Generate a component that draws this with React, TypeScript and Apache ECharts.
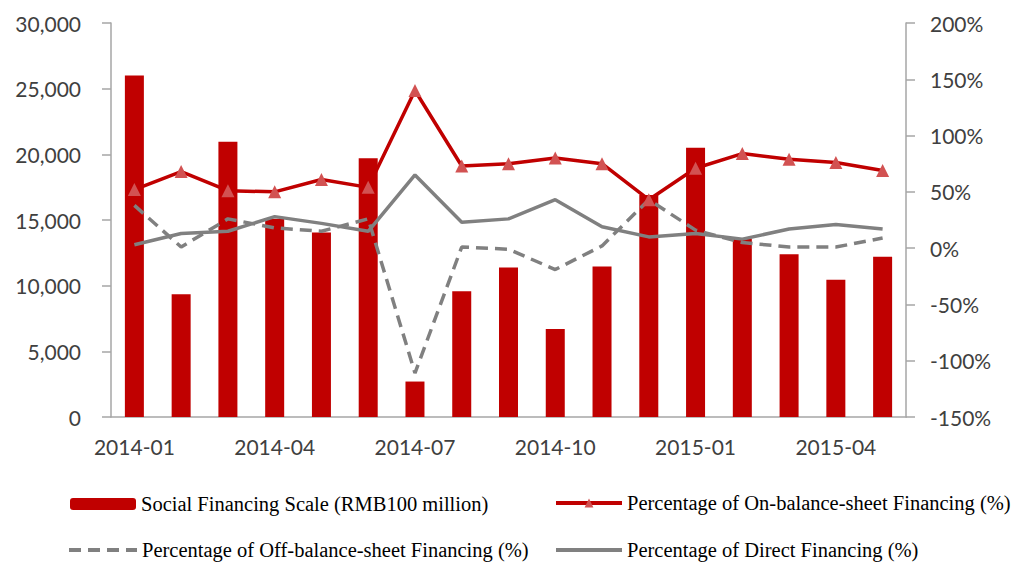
import React, { useEffect, useRef } from "react";
import * as echarts from "echarts";

const months = [
  "2014-01", "2014-02", "2014-03", "2014-04", "2014-05", "2014-06",
  "2014-07", "2014-08", "2014-09", "2014-10", "2014-11", "2014-12",
  "2015-01", "2015-02", "2015-03", "2015-04", "2015-05",
];

const socialFinancing = [
  26000, 9350, 20950, 15100, 14050, 19700, 2700, 9570, 11380, 6700,
  11460, 16900, 20500, 13600, 12400, 10450, 12200,
];

const onBalance = [52, 68, 51, 50, 61, 54, 140, 73, 75, 80, 75, 43, 71, 84, 79, 76, 69];
const offBalance = [38, 1, 26, 18, 15, 26, -111, 1, -1, -19, 2, 43, 16, 5, 1, 1, 9];
const directFin = [3, 13, 15, 28, 22, 15, 65, 23, 26, 43, 19, 10, 13, 8, 17, 21, 17];

const names = {
  bar: "Social Financing Scale (RMB100 million)",
  on: "Percentage of On-balance-sheet Financing (%)",
  off: "Percentage of Off-balance-sheet Financing (%)",
  direct: "Percentage of Direct Financing (%)",
};

const axisColor = "#a6a6a6";
const labelColor = "#404040";
const labelFont = "Lato";
const legendFont = "Liberation Serif";

export default function App() {
  const ref = useRef<HTMLDivElement>(null);
  useEffect(() => {
    if (!ref.current) return;
    const chart = echarts.init(ref.current, null, { renderer: "svg" });
    const legendText = {
      fontFamily: legendFont,
      fontSize: 20.5,
      color: "#000",
      lineHeight: 24,
    };
    const mkLegend = (item: any, left: number, top: number, w: number, h: number) => ({
      data: [item],
      left,
      top,
      padding: 0,
      itemWidth: w,
      itemHeight: h,
      textStyle: legendText,
      lineStyle: { width: 4 },
      selectedMode: false,
    });
    chart.setOption({
      animation: false,
      backgroundColor: "#fff",
      grid: { left: 111, right: 112, top: 23, bottom: 145, containLabel: false },
      legend: [
        mkLegend(names.bar, 70, 492, 66, 12),
        mkLegend(names.on, 554, 491, 66, 11),
        mkLegend({ name: names.off, itemStyle: { opacity: 0 } }, 67, 538, 68, 12),
        mkLegend({ name: names.direct, itemStyle: { opacity: 0 } }, 554, 538, 66, 12),
      ],
      xAxis: {
        type: "category",
        data: months,
        boundaryGap: true,
        axisLine: { lineStyle: { color: axisColor, width: 1.5 } },
        axisTick: { interval: 2, length: 7, lineStyle: { color: axisColor, width: 1.5 } },
        axisLabel: {
          interval: 2,
          margin: 19,
          fontFamily: labelFont,
          fontSize: 21,
          color: labelColor,
        },
      },
      yAxis: [
        {
          type: "value",
          min: 0,
          max: 30000,
          interval: 5000,
          splitLine: { show: false },
          axisLine: { show: true, lineStyle: { color: axisColor, width: 1.5 } },
          axisTick: { show: true, length: 9, lineStyle: { color: axisColor, width: 1.5 } },
          axisLabel: {
            margin: 30,
            fontFamily: labelFont,
            fontSize: 21,
            color: labelColor,
            formatter: (v: number) => v.toLocaleString("en-US"),
          },
        },
        {
          type: "value",
          min: -150,
          max: 200,
          interval: 50,
          position: "right",
          splitLine: { show: false },
          axisLine: { show: true, lineStyle: { color: axisColor, width: 1.5 } },
          axisTick: { show: true, length: 9, lineStyle: { color: axisColor, width: 1.5 } },
          axisLabel: {
            margin: 24,
            fontFamily: labelFont,
            fontSize: 21,
            color: labelColor,
            formatter: "{value}%",
          },
        },
      ],
      series: [
        {
          name: names.bar,
          type: "bar",
          data: socialFinancing,
          barWidth: 19,
          itemStyle: { color: "#c00000" },
          z: 1,
        },
        {
          name: names.off,
          type: "line",
          yAxisIndex: 1,
          data: offBalance,
          showSymbol: false,
          symbol: "none",
          lineStyle: { color: "#808080", width: 3.5, type: [12, 7] },
          itemStyle: { color: "#808080" },
          z: 3,
        },
        {
          name: names.direct,
          type: "line",
          yAxisIndex: 1,
          data: directFin,
          showSymbol: false,
          symbol: "none",
          lineStyle: { color: "#808080", width: 3.5 },
          itemStyle: { color: "#808080" },
          z: 4,
        },
        {
          name: names.on,
          type: "line",
          yAxisIndex: 1,
          data: onBalance,
          symbol: "triangle",
          symbolSize: 13,
          lineStyle: { color: "#c00000", width: 3.5 },
          itemStyle: { color: "#d25252", borderWidth: 0 },
          z: 5,
        },
      ],
    });
    return () => chart.dispose();
  }, []);
  return <div ref={ref} style={{ width: 1018, height: 562, position: "absolute", left: 0, top: 0 }} />;
}
